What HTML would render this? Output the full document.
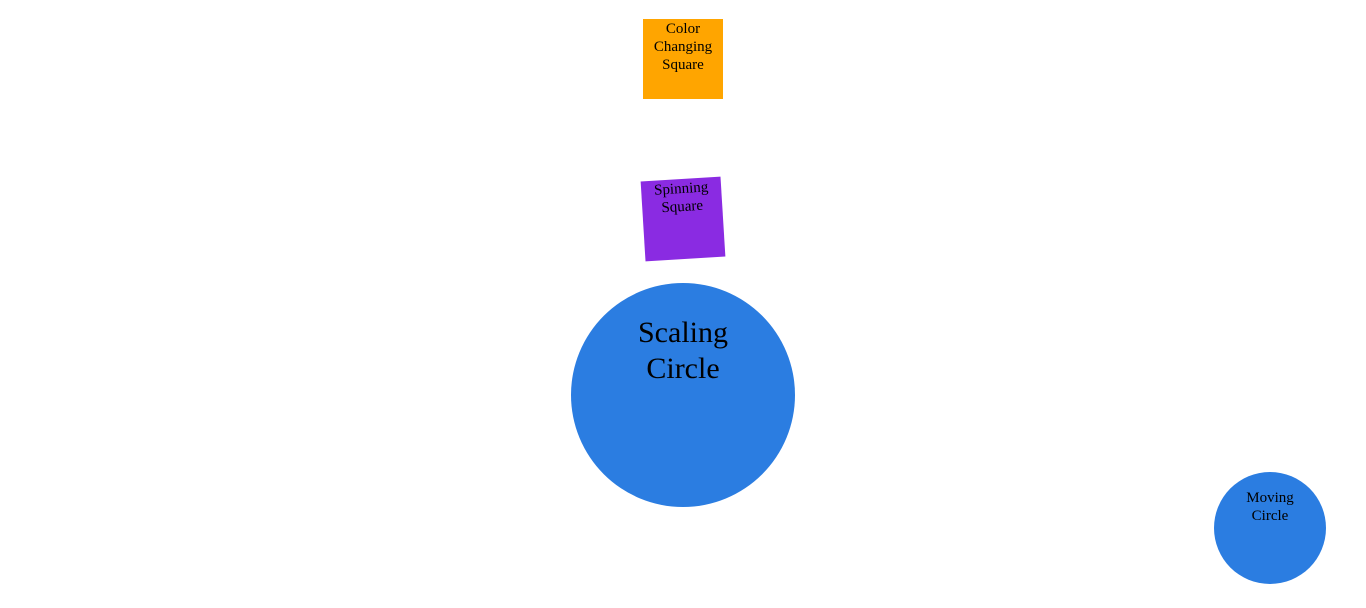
<!DOCTYPE html>
<html><head><meta charset="utf-8"><style>
html,body{margin:0;padding:0;background:#fff;width:1366px;height:608px;overflow:hidden;position:relative;font-family:"Liberation Serif",serif;color:#000}
.s{position:absolute;width:80px;height:80px;text-align:center;font-size:15px;line-height:18px;box-sizing:border-box}
.c{position:absolute;border-radius:50%;background:#2b7de1;text-align:center;box-sizing:border-box}
</style></head><body>
<div class="s" style="left:643px;top:19px;background:#ffa500;padding-top:1px;">Color<br>Changing<br>Square</div>
<div class="s" style="left:643px;top:179px;background:#8a2be2;transform:rotate(-3.5deg);padding-top:1px;">Spinning<br>Square</div>
<div class="c" style="left:571px;top:283px;width:224px;height:224px;font-size:30px;line-height:36px;padding-top:32px;">Scaling<br>Circle</div>
<div class="c" style="left:1214px;top:472px;width:112px;height:112px;font-size:15px;line-height:18px;padding-top:17px;">Moving<br>Circle</div>
</body></html>
